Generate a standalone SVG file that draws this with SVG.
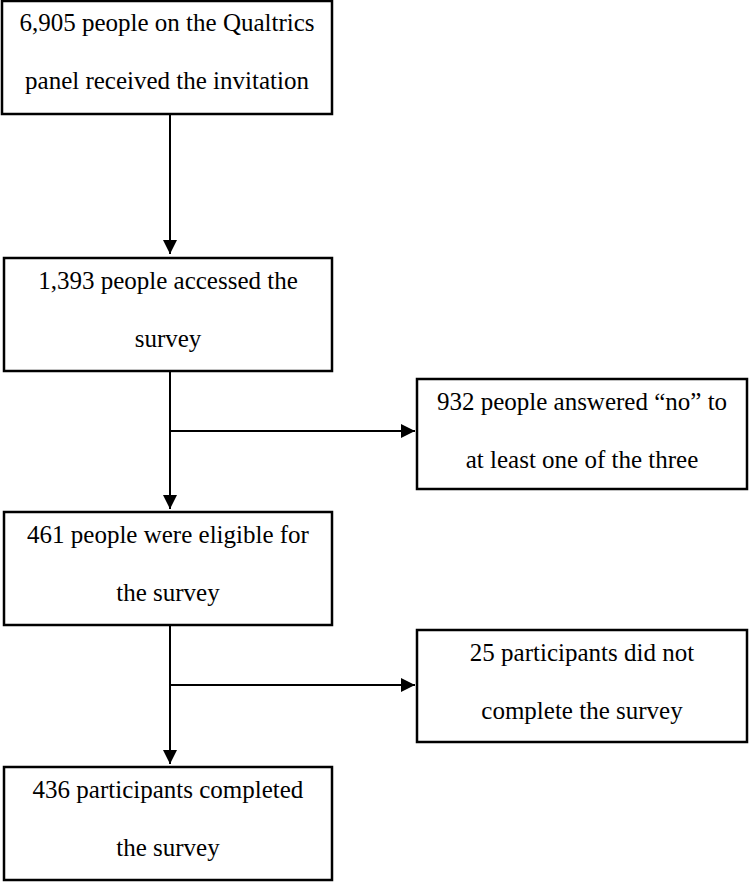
<svg xmlns="http://www.w3.org/2000/svg" width="750" height="882" viewBox="0 0 750 882">
<style>
.box{fill:#fff;stroke:#000;stroke-width:2.5}
.t{font-family:'Liberation Serif','Times New Roman',Tinos,'DejaVu Serif',serif;font-size:25px;fill:#000;text-anchor:middle}
.c{stroke:#000;stroke-width:2;fill:none}
</style>
<defs>
<marker id="ah" markerWidth="14" markerHeight="14" refX="14" refY="7" orient="auto" markerUnits="userSpaceOnUse">
<path d="M0,0 L14,7 L0,14 Z" fill="#000"/>
</marker>
</defs>
<rect width="750" height="882" fill="#fff"/>
<g id="connectors">
<line class="c" x1="170" y1="114" x2="170" y2="254" marker-end="url(#ah)"/>
<line class="c" x1="170" y1="371" x2="170" y2="509" marker-end="url(#ah)"/>
<line class="c" x1="170" y1="431" x2="415" y2="431" marker-end="url(#ah)"/>
<line class="c" x1="170" y1="625" x2="170" y2="764" marker-end="url(#ah)"/>
<line class="c" x1="170" y1="685" x2="415" y2="685" marker-end="url(#ah)"/>
</g>
<g id="n1">
<rect class="box" x="2" y="1" width="330" height="113"/>
<text class="t" x="167" y="31">6,905 people on the Qualtrics</text>
<text class="t" x="167" y="89">panel received the invitation</text>
</g>
<g id="n2">
<rect class="box" x="4" y="258" width="328" height="113"/>
<text class="t" x="168" y="289">1,393 people accessed the</text>
<text class="t" x="168" y="347">survey</text>
</g>
<g id="n3">
<rect class="box" x="417" y="379" width="330" height="110"/>
<text class="t" x="582" y="410">932 people answered “no” to</text>
<text class="t" x="582" y="468">at least one of the three</text>
</g>
<g id="n4">
<rect class="box" x="4" y="512" width="328" height="113"/>
<text class="t" x="168" y="543">461 people were eligible for</text>
<text class="t" x="168" y="601">the survey</text>
</g>
<g id="n5">
<rect class="box" x="417" y="630" width="330" height="112"/>
<text class="t" x="582" y="661">25 participants did not</text>
<text class="t" x="582" y="719">complete the survey</text>
</g>
<g id="n6">
<rect class="box" x="4" y="767" width="328" height="113"/>
<text class="t" x="168" y="798">436 participants completed</text>
<text class="t" x="168" y="856">the survey</text>
</g>
</svg>
